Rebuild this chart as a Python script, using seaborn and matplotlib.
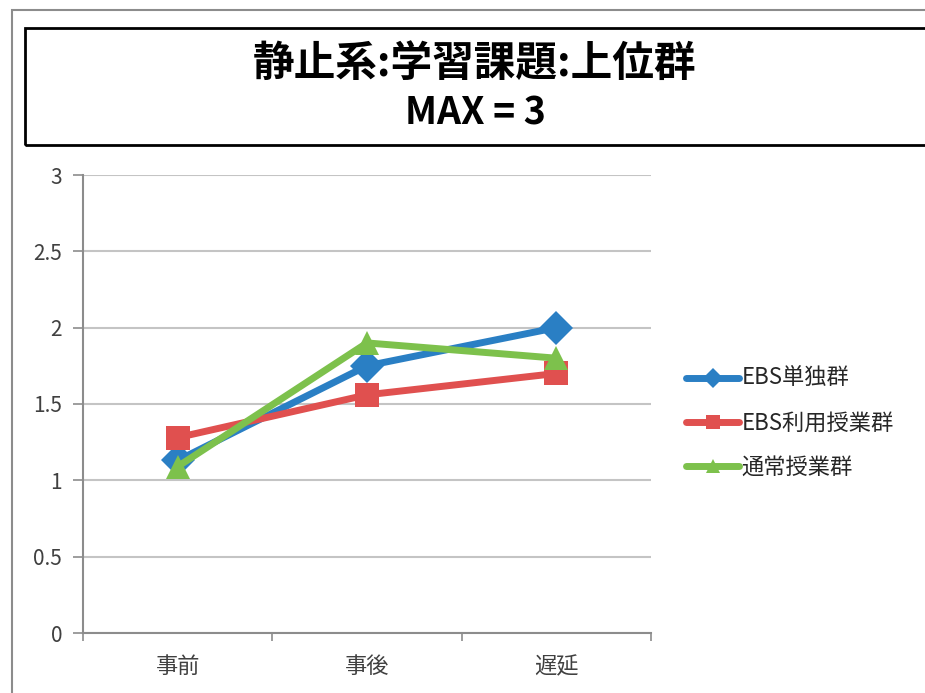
import matplotlib
matplotlib.use("Agg")
import matplotlib.pyplot as plt
from matplotlib.patches import Rectangle
import seaborn as sns
import pandas as pd

# Test phases and group scores (MAX = 3)
phases = ["事前", "事後", "遅延"]
ebs_only = [1.13, 1.75, 2.00]
ebs_class = [1.28, 1.56, 1.70]
normal_class = [1.09, 1.90, 1.80]
group_names = ["EBS単独群", "EBS利用授業群", "通常授業群"]
colors = ["#2a7fc4", "#e0504f", "#7dc14c"]
markers = ["D", "s", "^"]

rows = []
for name, vals in zip(group_names, [ebs_only, ebs_class, normal_class]):
    for i, (p, v) in enumerate(zip(phases, vals)):
        rows.append({"phase": p, "pos": i, "score": v, "group": name})
df = pd.DataFrame(rows)

sns.set_theme(style="white")
plt.rcParams["font.family"] = ["Noto Sans CJK JP", "DejaVu Sans"]

fig = plt.figure(figsize=(9.25, 6.93), dpi=100)
W, H = 925, 693

# outer chart frame
fig.patches.append(Rectangle((12 / W, -0.05), 1.0, 1 - 10 / H + 0.05,
                             transform=fig.transFigure, fill=False,
                             edgecolor="#8c8c8c", linewidth=1.5))
# title box
fig.patches.append(Rectangle((25 / W, 1 - 145 / H), 1.0, (145 - 28) / H,
                             transform=fig.transFigure, fill=False,
                             edgecolor="black", linewidth=2))
fig.text(475 / W, 1 - 64 / H, "静止系:学習課題:上位群", ha="center", va="center",
         fontsize=30, fontweight="bold", color="black")
fig.text(475 / W, 1 - 113 / H, "MAX = 3", ha="center", va="center",
         fontsize=27, fontweight="bold", color="black")

ax = fig.add_axes([83 / W, 1 - 633 / H, (651 - 83) / W, (633 - 175) / H])

sns.lineplot(data=df, x="pos", y="score", hue="group", style="group",
             hue_order=group_names, style_order=group_names,
             palette=colors, markers=markers, dashes=False,
             linewidth=5, markersize=17, markeredgewidth=0, ax=ax,
             sort=False)

ax.set_xlim(-0.5, 2.5)
ax.set_ylim(0, 3)
ax.set_yticks([0, 0.5, 1, 1.5, 2, 2.5, 3])
ax.set_yticklabels(["0", "0.5", "1", "1.5", "2", "2.5", "3"])
ax.set_xticks([0, 1, 2])
ax.set_xticklabels(phases)
ax.set_xticks([-0.5, 0.5, 1.5, 2.5], minor=True)
ax.tick_params(axis="x", which="major", length=0, pad=16, labelsize=16,
               labelcolor="#404040")
ax.tick_params(axis="x", which="minor", length=6, width=1.2, color="#8c8c8c",
               direction="out", bottom=True)
ax.tick_params(axis="y", length=7, width=1.2, color="#8c8c8c", direction="out",
               left=True, pad=8, labelsize=15, labelcolor="#404040")
ax.set_xlabel("")
ax.set_ylabel("")
ax.grid(axis="y", color="#c4c4c4", linewidth=1.5)
ax.set_axisbelow(True)
for side in ["top", "right"]:
    ax.spines[side].set_visible(False)
for side in ["left", "bottom"]:
    ax.spines[side].set_color("#8c8c8c")
    ax.spines[side].set_linewidth(1.5)

handles, labels = ax.get_legend_handles_labels()
ax.legend(handles, labels, loc="center left",
          bbox_to_anchor=(686 / W, 1 - 423 / H), bbox_transform=fig.transFigure,
          frameon=False, fontsize=16, handlelength=2.4, handletextpad=0.1,
          labelspacing=0.95, markerscale=0.6, borderaxespad=0, borderpad=0)

fig.savefig("out.png", dpi=100)
